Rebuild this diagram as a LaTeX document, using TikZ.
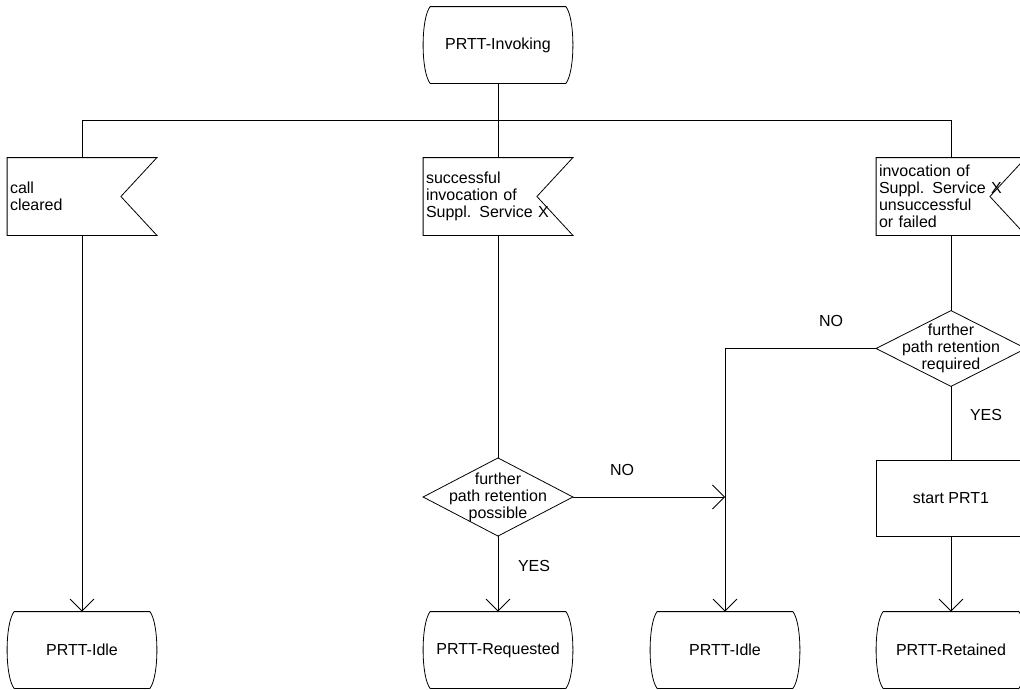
\documentclass[tikz,border=0pt]{standalone}
\usepackage{fontspec}
\setmainfont{Liberation Sans}
\usetikzlibrary{arrows.meta}
\newcommand\stateoutline[1]{%
  \draw ([xshift=5.25pt]#1.north west) -- ([xshift=-5.25pt]#1.north east)
    .. controls ([xshift=1.75pt,yshift=-9pt]#1.north east) and ([xshift=1.75pt,yshift=9pt]#1.south east) .. ([xshift=-5.25pt]#1.south east)
    -- ([xshift=5.25pt]#1.south west)
    .. controls ([xshift=-1.75pt,yshift=9pt]#1.south west) and ([xshift=-1.75pt,yshift=-9pt]#1.north west) .. cycle;}
\newcommand\flagoutline[1]{%
  \draw (#1.north west) -- (#1.north east) -- ([xshift=-27pt]#1.east) -- (#1.south east) -- (#1.south west) -- cycle;}
\newcommand\diamondoutline[1]{%
  \draw (#1.north) -- (#1.east) -- (#1.south) -- (#1.west) -- cycle;}
\tikzset{
  base/.style={font=\fontsize{12pt}{12.75pt}\selectfont, inner sep=0pt},
  statebox/.style={base, minimum width=111.75pt, minimum height=57pt},
  flagbox/.style={base, minimum width=111.75pt, minimum height=57.75pt, text width=108pt, align=left},
  decbox/.style={base, minimum width=111.75pt, minimum height=58pt, align=center},
  taskbox/.style={base, draw, minimum width=112.5pt, minimum height=57pt},
  lbl/.style={base},
  arr/.style={-{Straight Barb[length=9pt,width=18pt]}},
}
\begin{document}
\begin{tikzpicture}[x=0.75pt, y=-0.75pt, line width=0.6pt]
\clip (0,0) rectangle (1020,689);
% states
\node[statebox] (inv) at (498,45) {PRTT-Invoking};
\node[statebox] (idle1) at (82,650) {PRTT-Idle};
\node[statebox] (req) at (498,650) {PRTT-Requested};
\node[statebox] (idle2) at (725,650) {PRTT-Idle};
\node[statebox] (ret) at (951,650) {PRTT-Retained};
\stateoutline{inv}
\stateoutline{idle1}
\stateoutline{req}
\stateoutline{idle2}
\stateoutline{ret}
% input flags
\node[flagbox] (fl1) at (82,196.5) {call\\cleared};
\node[flagbox] (fl2) at (498,196.5) {successful\\invocation of\\Suppl. Service X};
\node[flagbox] (fl3) at (951,196.5) {invocation of\\Suppl. Service X\\unsuccessful\\or failed};
\flagoutline{fl1}
\flagoutline{fl2}
\flagoutline{fl3}
% decisions
\node[decbox] (d1) at (498,497) {further\\path retention\\possible};
\node[decbox, minimum height=56.25pt] (d2) at (951,348.5) {further\\path retention\\required};
\diamondoutline{d1}
\diamondoutline{d2}
% task
\node[taskbox] (prt) at (951,498) {start PRT1};
% bus
\coordinate (busL) at (82,120);
\coordinate (busR) at (951,120);
\draw (inv.south) -- (fl2.north);
\draw (busL) -- (busR);
\draw (busL) -- (fl1.north);
\draw (busR) -- (fl3.north);
% connectors
\draw[arr] (fl1.south) -- (idle1.north);
\draw (fl2.south) -- (d1.north);
\draw[arr] (d1.south) -- (req.north);
\draw[arr] (d1.east) -- (d1.east -| idle2.north);
\draw (fl3.south) -- (d2.north);
\draw[arr] (d2.west) -| (idle2.north);
\draw (d2.south) -- (prt.north);
\draw[arr] (prt.south) -- (ret.north);
% labels
\node[lbl] (no1) at (622,470) {NO};
\node[lbl] (yes1) at (534,566) {YES};
\node[lbl] (no2) at (831,321) {NO};
\node[lbl] (yes2) at (986,415) {YES};
\end{tikzpicture}
\end{document}
